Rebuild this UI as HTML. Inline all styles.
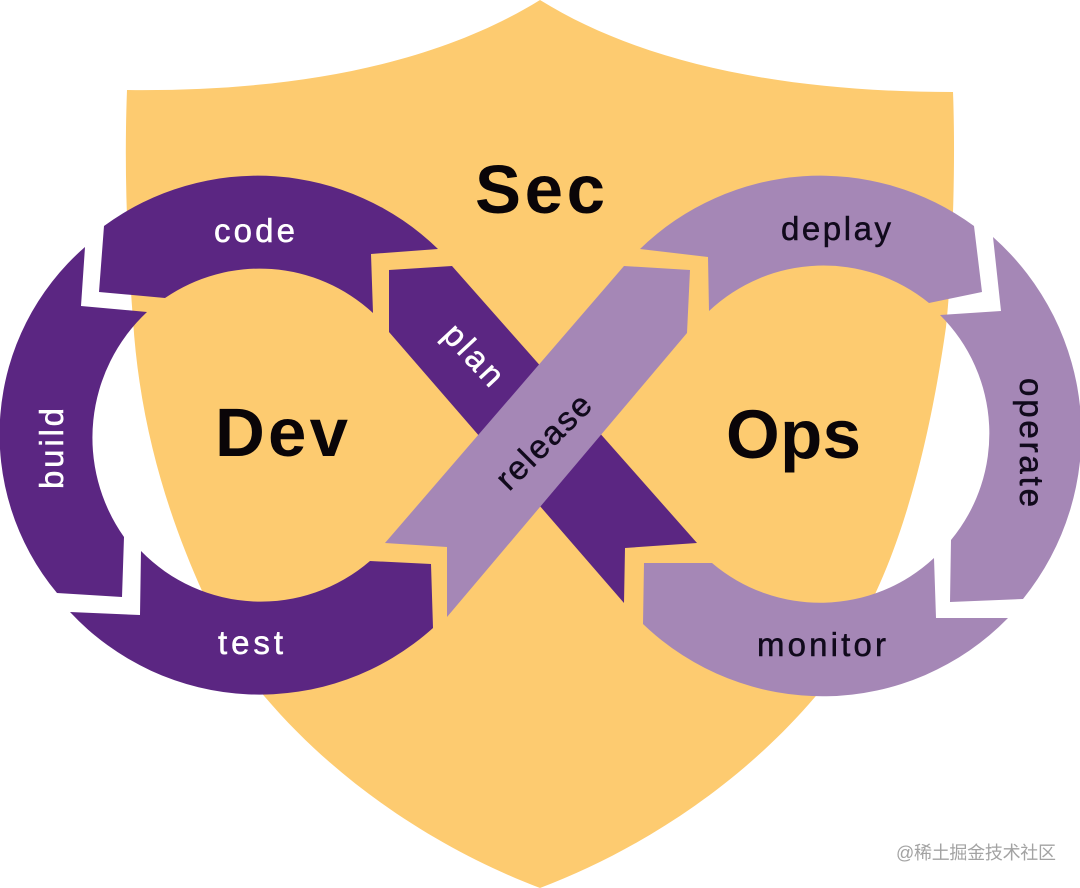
<!DOCTYPE html>
<html>
<head>
<meta charset="utf-8">
<style>
html,body{margin:0;padding:0;background:#fff;width:1080px;height:888px;overflow:hidden}
svg{display:block}
text{font-family:"Liberation Sans","Noto Sans CJK SC",sans-serif}
.big{font-weight:700;font-size:69px;fill:#0a0508}
.w{font-size:33px;fill:#fff;stroke:#fff;stroke-width:.5}
.k{font-size:33px;fill:#110a1c;stroke:#110a1c;stroke-width:.5}
</style>
</head>
<body>
<svg width="1080" height="888" viewBox="0 0 1080 888" xmlns="http://www.w3.org/2000/svg">
<path fill="#FDCB70" d="M540 0C440 62 300 92 127 90C124 170 127 240 133 320C140 430 170 520 203 593C225 640 245 675 265 697C340 785 440 850 540 888C640 850 740 785 815 697C835 675 855 635 876 592C905 530 930 440 946 327C952 270 956 170 953 92C780 92 640 62 540 0Z"/>

<g fill="#5B2682">
<path d="M104 226A259 259 0 0 1 438 249L371 254L373 313A167 167 0 0 0 165 298L99 292Z"/>
<path d="M85 247L81 306L147 312A172 172 0 0 0 124 537L122 597L57 593A248 248 0 0 1 85 247Z"/>
<path d="M141 551A167 167 0 0 0 370 561L431 564L433 628A259 259 0 0 1 70 612L140 615Z"/>
<path d="M389 270L452 266L697 543L625 548L624 603L389 332Z"/>
</g>
<g fill="#A587B6">
<path d="M640 249A259 259 0 0 1 974 226L982 292L929 303A167 167 0 0 0 709 311L708 257Z"/>
<path d="M993 237L1001 311L940 315A167 167 0 0 1 951 540L950 602L1023 599A263 263 0 0 0 993 237Z"/>
<path d="M644 563L712 563A167 167 0 0 0 934 558L936 618L1008 618A259 259 0 0 1 643 624Z"/>
<path d="M624 266L690 270L687 333L447 617L447 547L385 543Z"/>
</g>

<text class="big" x="475" y="213" textLength="130" lengthAdjust="spacing">Sec</text>
<text class="big" x="215" y="456" textLength="133" lengthAdjust="spacing">Dev</text>
<text class="big" x="726" y="458" textLength="135" lengthAdjust="spacing">Ops</text>

<text class="w" x="214" y="242" textLength="81">code</text>
<text class="w" x="218" y="654" textLength="65">test</text>
<text class="w" transform="translate(63,489) rotate(-90)" textLength="81">build</text>
<text class="w" transform="translate(441,336) rotate(47)" textLength="72">plan</text>
<text class="k" x="781" y="240" textLength="110">deplay</text>
<text class="k" x="757" y="656" textLength="129">monitor</text>
<text class="k" transform="translate(1020,378) rotate(90)" textLength="129">operate</text>
<text class="k" transform="translate(509,492) rotate(-45)" textLength="120">release</text>

<text x="896" y="859" font-size="18" fill="#a3a3a3" textLength="160">@稀土掘金技术社区</text>
</svg>
</body>
</html>
